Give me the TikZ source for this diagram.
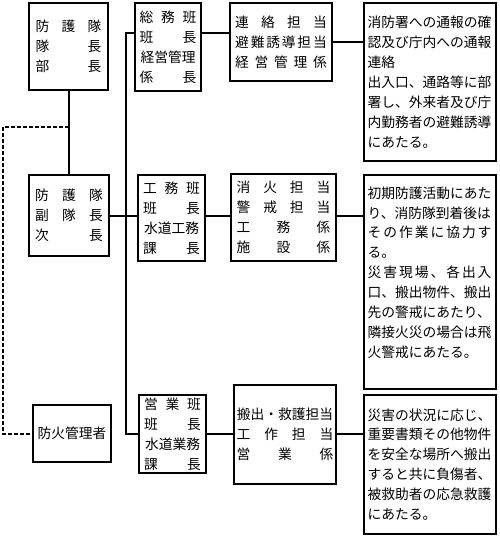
\documentclass[tikz,border=0pt]{standalone}
\usepackage{fontspec}
\setmainfont{Noto Sans CJK JP}
\newcommand{\spreadrow}[2]{\makebox[#1]{#2}}
\tikzset{
  box/.style={draw, line width=2.5bp, inner sep=0pt, align=center,
    font=\fontsize{13.8}{20}\selectfont},
  textbox/.style={box, align=left},
  link/.style={line width=2.5bp},
  duty/.style={line width=2.5bp, dash pattern=on 4bp off 2bp},
}
\begin{document}
\begin{tikzpicture}[x=1bp,y=-1bp]
\useasboundingbox (0,0) rectangle (500,538);
% top row
\node[box, minimum width=79bp, minimum height=87bp] (A) at (68.5,46.5)
  {\spreadrow{66pt}{防\hfill 護\hfill 隊}\\ \spreadrow{66pt}{隊\hfill 長}\\ \spreadrow{66pt}{部\hfill 長}};
\node[box, minimum width=66bp, minimum height=88bp] (B) at (168,47)
  {\spreadrow{57pt}{総\hfill 務\hfill 班}\\ \spreadrow{57pt}{班\hfill 長}\\ \spreadrow{57pt}{経営管理}\\ \spreadrow{57pt}{係\hfill 長}};
\node[box, minimum width=102bp, minimum height=78bp] (C) at (281,42)
  {\spreadrow{92pt}{連\hfill 絡\hfill 担\hfill 当}\\ \spreadrow{92pt}{避\hfill 難\hfill 誘\hfill 導\hfill 担\hfill 当}\\ \spreadrow{92pt}{経\hfill 営\hfill 管\hfill 理\hfill 係}};
\node[textbox, minimum width=132bp, minimum height=158bp, text width=125pt] (D) at (430,82)
  {消防署への通報の確\\認及び庁内への通報\\連絡\\出入口、通路等に部\\署し、外来者及び庁\\内勤務者の避難誘導\\にあたる。};
% middle row
\node[box, minimum width=80bp, minimum height=81bp] (E) at (69,215.5)
  {\spreadrow{68pt}{防\hfill 護\hfill 隊}\\ \spreadrow{68pt}{副\hfill 隊\hfill 長}\\ \spreadrow{68pt}{次\hfill 長}};
\node[box, minimum width=67bp, minimum height=86bp] (F) at (171.5,218)
  {\spreadrow{57pt}{工\hfill 務\hfill 班}\\ \spreadrow{57pt}{班\hfill 長}\\ \spreadrow{57pt}{水道工務}\\ \spreadrow{57pt}{課\hfill 長}};
\node[box, minimum width=105bp, minimum height=87bp] (G) at (283.5,217.5)
  {\spreadrow{94pt}{消\hfill 火\hfill 担\hfill 当}\\ \spreadrow{94pt}{警\hfill 戒\hfill 担\hfill 当}\\ \spreadrow{94pt}{工\hfill 務\hfill 係}\\ \spreadrow{94pt}{施\hfill 設\hfill 係}};
\node[textbox, minimum width=132bp, minimum height=214bp, text width=125pt] (H) at (430,282)
  {初期防護活動にあた\\り、消防隊到着後は\\\spreadrow{124.2pt}{そ\hfill の\hfill 作\hfill 業\hfill に\hfill 協\hfill 力\hfill す}\\る。\\\spreadrow{124.2pt}{災\hfill 害\hfill 現\hfill 場\hfill 、\hfill 各\hfill 出\hfill 入}\\口、搬出物件、搬出\\先の警戒にあたり、\\隣接火災の場合は飛\\火警戒にあたる。\\ \mbox{}};
% bottom row
\node[box, minimum width=78bp, minimum height=57bp] (I) at (72,433.5) {防火管理者};
\node[box, minimum width=67bp, minimum height=78bp] (J) at (172.5,434)
  {\spreadrow{57pt}{営\hfill 業\hfill 班}\\ \spreadrow{57pt}{班\hfill 長}\\ \spreadrow{57pt}{水道業務}\\ \spreadrow{57pt}{課\hfill 長}};
\node[box, minimum width=102bp, minimum height=99bp] (K) at (285,434.5)
  {\spreadrow{97pt}{搬出・救護担当}\\ \spreadrow{97pt}{工\hfill 作\hfill 担\hfill 当}\\ \spreadrow{97pt}{営\hfill 業\hfill 係}};
\node[textbox, minimum width=132bp, minimum height=139bp, text width=125pt] (L) at (430,464.5)
  {災害の状況に応じ、\\重要書類その他物件\\を安全な場所へ搬出\\すると共に負傷者、\\被救助者の応急救護\\にあたる。};
% connector points
\coordinate (acol) at (69,0);
\coordinate (bustop) at (126,33);
\coordinate (midrow) at (0,216);
\coordinate (botrow) at (0,434);
\coordinate (dj) at (69,127);
\coordinate (dl) at (3,434);
% connectors
\draw[link] (A.south -| acol) -- (E.north -| acol);
\draw[link] (B.west |- bustop) -- (bustop) -- (bustop |- botrow) -- (J.west |- botrow);
\draw[link] (B.east |- bustop) -- (C.west |- bustop);
\draw[link] (C.east) -- (C.east -| D.west);
\draw[link] (E.east |- midrow) -- (F.west |- midrow);
\draw[link] (F.east |- midrow) -- (G.west |- midrow);
\draw[link] (G.east |- midrow) -- (H.west |- midrow);
\draw[link] (J.east |- botrow) -- (K.west |- botrow);
\draw[link] (K.east |- botrow) -- (L.west |- botrow);
\draw[duty] (dj) -| (dl) -- (I.west |- dl);
\end{tikzpicture}
\end{document}
